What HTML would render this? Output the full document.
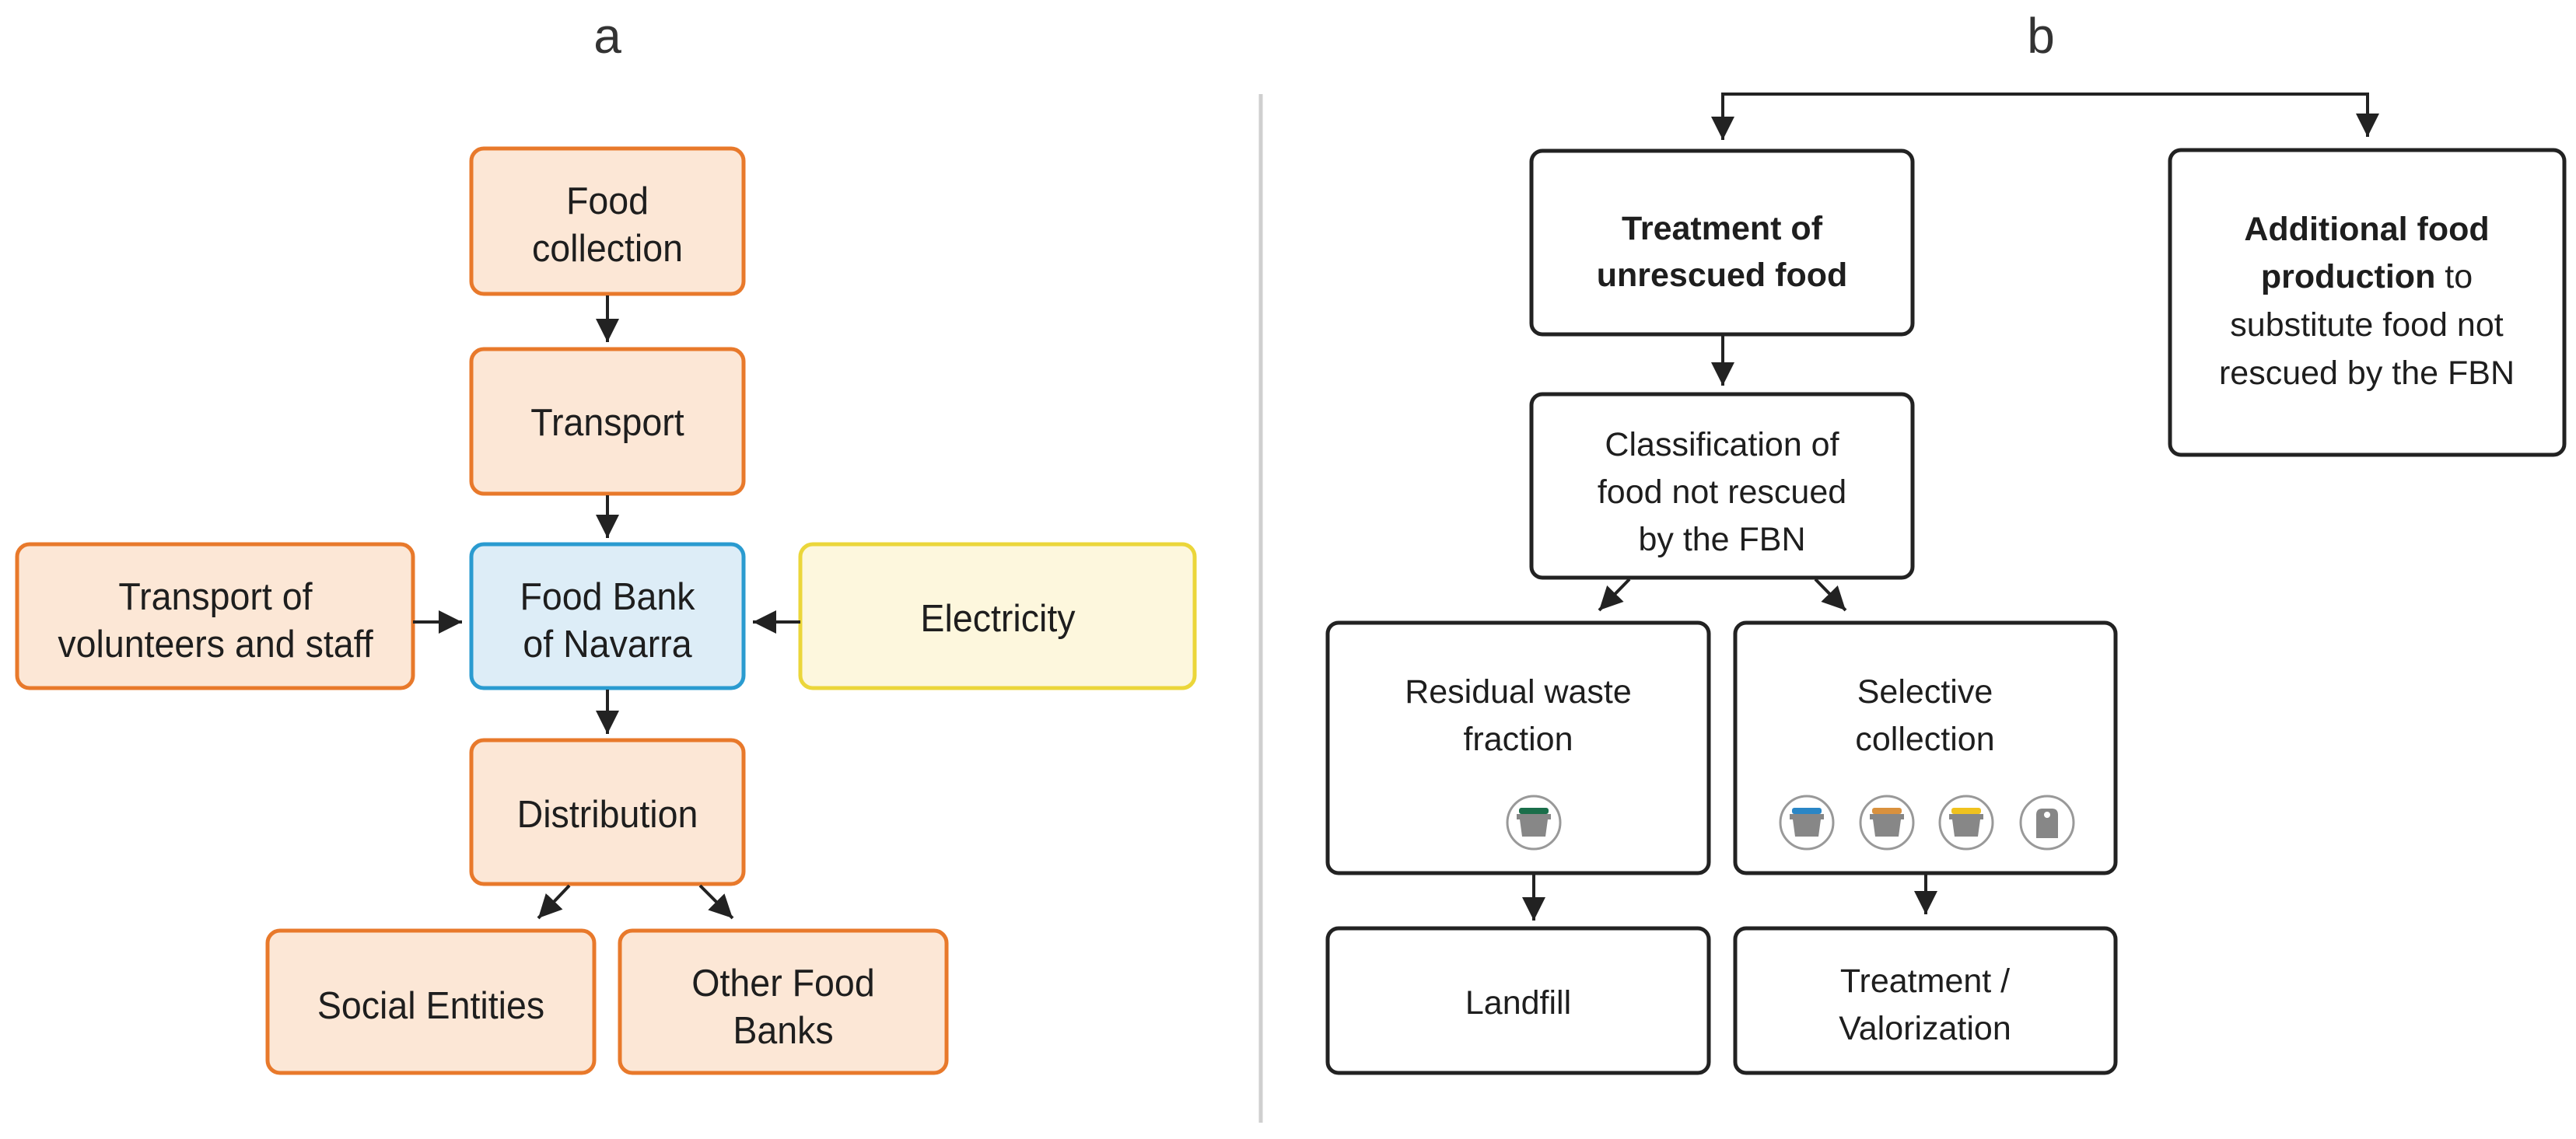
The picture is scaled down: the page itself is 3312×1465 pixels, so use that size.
<!DOCTYPE html>
<html><head><meta charset="utf-8"><style>
html,body{margin:0;padding:0;background:#fff;}
svg{display:block;}
text{font-family:"Liberation Sans",sans-serif;fill:#1e1e1e;text-anchor:middle;}
.a text{font-size:49px;}
.b text{font-size:43px;}
</style></head><body>
<svg width="3312" height="1465" viewBox="0 0 3312 1465" xmlns="http://www.w3.org/2000/svg">
<defs>
<marker id="ah" viewBox="0 0 10 10" refX="10" refY="5" markerWidth="7.5" markerHeight="7.5" markerUnits="strokeWidth" orient="auto">
<path d="M0,0 L10,5 L0,10 z" fill="#222"/>
</marker>
</defs>
<rect width="3312" height="1465" fill="#fff"/>
<text x="781" y="68" style="font-size:64px;fill:#333">a</text>
<text x="2624" y="68" style="font-size:64px;fill:#333">b</text>
<line x1="1621" y1="121" x2="1621" y2="1444" stroke="#cfcfcf" stroke-width="5"/>

<g class="a" stroke-width="5">
<rect x="606" y="191" width="350" height="187" rx="16" fill="#fce7d6" stroke="#e8792b"/>
<rect x="606" y="449" width="350" height="186" rx="16" fill="#fce7d6" stroke="#e8792b"/>
<rect x="22" y="700" width="509" height="185" rx="16" fill="#fce7d6" stroke="#e8792b"/>
<rect x="606" y="700" width="350" height="185" rx="16" fill="#ddedf7" stroke="#2a9bd0"/>
<rect x="1029" y="700" width="507" height="185" rx="16" fill="#fdf7dd" stroke="#ebd63a"/>
<rect x="606" y="952" width="350" height="185" rx="16" fill="#fce7d6" stroke="#e8792b"/>
<rect x="344" y="1197" width="420" height="183" rx="16" fill="#fce7d6" stroke="#e8792b"/>
<rect x="797" y="1197" width="420" height="183" rx="16" fill="#fce7d6" stroke="#e8792b"/>
</g>
<g stroke="#222" stroke-width="4" fill="none" marker-end="url(#ah)">
<line x1="781" y1="380" x2="781" y2="440"/>
<line x1="781" y1="637" x2="781" y2="692"/>
<line x1="531" y1="800" x2="594" y2="800"/>
<line x1="1029" y1="800" x2="968" y2="800"/>
<line x1="781" y1="887" x2="781" y2="944"/>
<line x1="732" y1="1139" x2="692" y2="1181"/>
<line x1="900" y1="1139" x2="942" y2="1181"/>
</g>
<g class="a">
<g transform="translate(781 0) scale(0.95 1)"><text x="0" y="275">Food</text><text x="0" y="336">collection</text><text x="0" y="560">Transport</text><text x="0" y="784">Food Bank</text><text x="0" y="845">of Navarra</text><text x="0" y="1064">Distribution</text></g>
<g transform="translate(277 0) scale(0.95 1)"><text x="0" y="784">Transport of</text><text x="0" y="845">volunteers and staff</text></g>
<g transform="translate(1283 0) scale(0.95 1)"><text x="0" y="812">Electricity</text></g>
<g transform="translate(554 0) scale(0.95 1)"><text x="0" y="1310">Social Entities</text></g>
<g transform="translate(1007 0) scale(0.95 1)"><text x="0" y="1281">Other Food</text><text x="0" y="1342">Banks</text></g>
</g>

<g fill="#fff" stroke="#222" stroke-width="5">
<rect x="1969" y="194" width="490" height="236" rx="14"/>
<rect x="1969" y="507" width="490" height="236" rx="14"/>
<rect x="1707" y="801" width="490" height="322" rx="14"/>
<rect x="2231" y="801" width="489" height="322" rx="14"/>
<rect x="1707" y="1194" width="490" height="186" rx="14"/>
<rect x="2231" y="1194" width="489" height="186" rx="14"/>
<rect x="2790" y="193" width="507" height="392" rx="14"/>
</g>
<g stroke="#222" stroke-width="4" fill="none">
<polyline points="2215,172 2215,121 3044,121 3044,176" marker-end="url(#ah)"/>
<line x1="2215" y1="121" x2="2215" y2="180" marker-end="url(#ah)"/>
<line x1="2215" y1="432" x2="2215" y2="496" marker-end="url(#ah)"/>
<line x1="2095" y1="745" x2="2056" y2="785" marker-end="url(#ah)"/>
<line x1="2334" y1="745" x2="2373" y2="785" marker-end="url(#ah)"/>
<line x1="1972" y1="1125" x2="1972" y2="1184" marker-end="url(#ah)"/>
<line x1="2476" y1="1125" x2="2476" y2="1176" marker-end="url(#ah)"/>
</g>
<g class="b">
<text x="2214" y="308" style="font-weight:bold">Treatment of</text>
<text x="2214" y="368" style="font-weight:bold">unrescued food</text>
<text x="3043" y="309" style="font-weight:bold">Additional food</text>
<text x="3043" y="370"><tspan style="font-weight:bold">production</tspan> to</text>
<text x="3043" y="432">substitute food not</text>
<text x="3043" y="494">rescued by the FBN</text>
<text x="2214" y="586">Classification of</text>
<text x="2214" y="647">food not rescued</text>
<text x="2214" y="708">by the FBN</text>
<text x="1952" y="904">Residual waste</text>
<text x="1952" y="965">fraction</text>
<text x="2475" y="904">Selective</text>
<text x="2475" y="965">collection</text>
<text x="1952" y="1304">Landfill</text>
<text x="2475" y="1276">Treatment /</text>
<text x="2475" y="1337">Valorization</text>
</g>
<g>
<g transform="translate(1972 1058)"><circle r="34" fill="#fff" stroke="#999" stroke-width="3"/><rect x="-19" y="-19" width="38" height="8" rx="3" fill="#1a6e4a"/><path d="M-22,-11 H22 V-4 H18 L15,18 H-15 L-18,-4 H-22 Z" fill="#878787"/></g>
<g transform="translate(2323 1058)"><circle r="34" fill="#fff" stroke="#999" stroke-width="3"/><rect x="-19" y="-19" width="38" height="8" rx="3" fill="#2a86c6"/><path d="M-22,-11 H22 V-4 H18 L15,18 H-15 L-18,-4 H-22 Z" fill="#878787"/></g>
<g transform="translate(2426 1058)"><circle r="34" fill="#fff" stroke="#999" stroke-width="3"/><rect x="-19" y="-19" width="38" height="8" rx="3" fill="#d9913e"/><path d="M-22,-11 H22 V-4 H18 L15,18 H-15 L-18,-4 H-22 Z" fill="#878787"/></g>
<g transform="translate(2528 1058)"><circle r="34" fill="#fff" stroke="#999" stroke-width="3"/><rect x="-19" y="-19" width="38" height="8" rx="3" fill="#f0c21e"/><path d="M-22,-11 H22 V-4 H18 L15,18 H-15 L-18,-4 H-22 Z" fill="#878787"/></g>
<g transform="translate(2632 1058)"><circle r="34" fill="#fff" stroke="#999" stroke-width="3"/><path d="M-14,20 L-14,-10 Q-14,-18 -6,-18 L6,-18 Q14,-18 14,-10 L14,20 Z" fill="#878787"/><circle cx="0" cy="-10" r="4" fill="#fff"/></g>
</g>
</svg>
</body></html>
